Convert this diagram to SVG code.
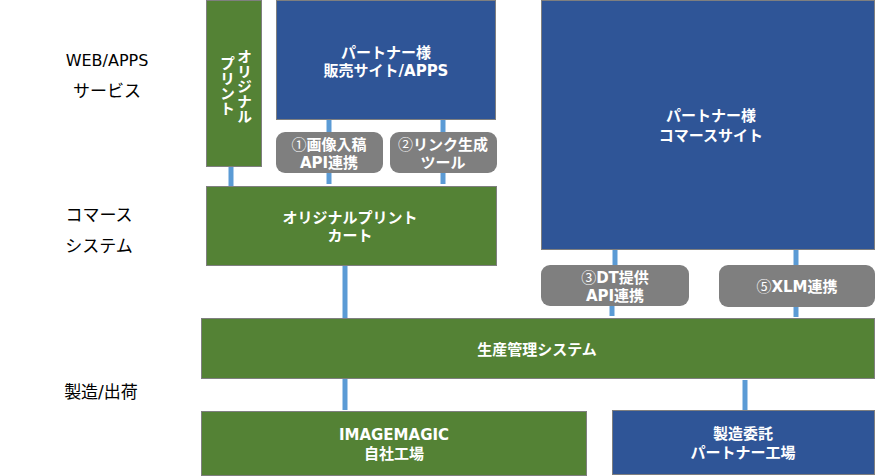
<svg xmlns="http://www.w3.org/2000/svg" width="875" height="476" viewBox="0 0 875 476">
<style>
text{font-family:"DejaVu Sans","Noto Sans CJK JP",sans-serif;text-anchor:middle;}
.w{font-size:15px;font-weight:700;fill:#fff;}
.n{font-family:"Noto Sans CJK JP",sans-serif;font-weight:400;}
.v{writing-mode:vertical-rl;text-orientation:upright;}
.k{font-size:17px;fill:#000;}
.g{fill:#548235;stroke:#7f7f7f;stroke-width:1;}
.b{fill:#2f5597;stroke:#7f7f7f;stroke-width:1;}
.p{fill:#7f7f7f;}
.c{stroke:#5b9bd5;stroke-width:5;fill:none;}
</style>
<rect width="875" height="476" fill="#fff"/>
<g id="connectors" class="c">
<path d="M231 166V186"/>
<path d="M329 119V184"/>
<path d="M443 119V184"/>
<path d="M345 265V318"/>
<path d="M615 249V265"/>
<path d="M612 305V316"/>
<path d="M796 249V317"/>
<path d="M345 378V410"/>
<path d="M745 380V410"/>
</g>
<g id="label-web"><text class="k" x="107" y="66" style="font-size:16px">WEB/APPS</text><text class="k" x="107" y="97">サービス</text></g>
<g id="label-commerce"><text class="k" x="99" y="221">コマース</text><text class="k" x="99" y="252">システム</text></g>
<g id="label-mfg"><text class="k" x="101" y="398">製造/出荷</text></g>
<g id="original-print"><rect class="g" x="206.500" y="0.500" width="55" height="166"/>
<text class="w v" x="243" y="86">オリジナル</text>
<text class="w v" x="226" y="86">プリント</text></g>
<g id="partner-sales"><rect class="b" x="276.500" y="0.500" width="219" height="119"/>
<text class="w" x="386" y="58">パートナー様</text><text class="w" x="386" y="76">販売サイト/APPS</text></g>
<g id="pill1"><rect class="p" x="276" y="132" width="107" height="41" rx="9"/>
<text class="w" x="329" y="150"><tspan class="n">①</tspan>画像入稿</text><text class="w" x="329" y="168">API連携</text></g>
<g id="pill2"><rect class="p" x="390" y="132" width="107" height="41" rx="9"/>
<text class="w" x="443" y="150"><tspan class="n">②</tspan>リンク生成</text><text class="w" x="443" y="168">ツール</text></g>
<g id="cart"><rect class="g" x="206.500" y="186.500" width="290" height="79"/>
<text class="w" x="350" y="223">オリジナルプリント</text><text class="w" x="350" y="241">カート</text></g>
<g id="partner-commerce"><rect class="b" x="541.500" y="0.500" width="333" height="249"/>
<text class="w" x="711" y="121">パートナー様</text><text class="w" x="711" y="141">コマースサイト</text></g>
<g id="pill3"><rect class="p" x="541" y="265" width="148" height="41" rx="9"/>
<text class="w" x="615" y="283"><tspan class="n">③</tspan>DT提供</text><text class="w" x="615" y="301">API連携</text></g>
<g id="pill5"><rect class="p" x="719" y="265" width="156" height="42" rx="9"/>
<text class="w" x="797" y="292"><tspan class="n">⑤</tspan>XLM連携</text></g>
<g id="production"><rect class="g" x="201.500" y="318.500" width="673" height="60"/>
<text class="w" x="537" y="355">生産管理システム</text></g>
<g id="own-factory"><rect class="g" x="201.500" y="411.500" width="385" height="64"/>
<text class="w" x="394" y="440">IMAGEMAGIC</text><text class="w" x="394" y="459">自社工場</text></g>
<g id="partner-factory"><rect class="b" x="612.500" y="410.500" width="262" height="64"/>
<text class="w" x="743" y="439">製造委託</text><text class="w" x="743" y="458">パートナー工場</text></g>
</svg>
